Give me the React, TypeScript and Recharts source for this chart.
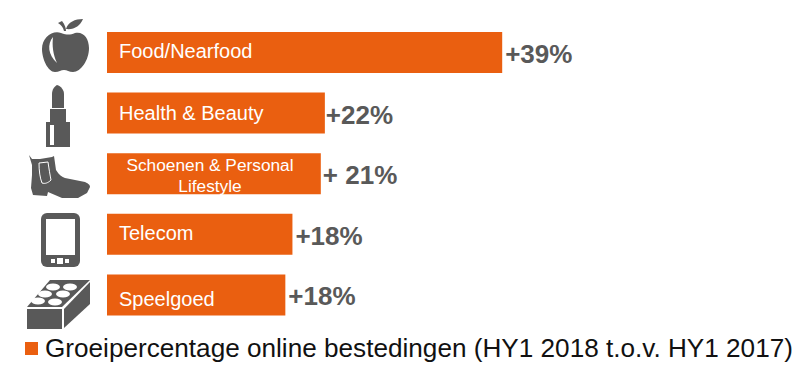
import { BarChart, Bar, XAxis, YAxis, LabelList, Legend } from 'recharts';

const categories = ['Food/Nearfood', 'Health & Beauty', 'Schoenen & Personal Lifestyle', 'Telecom', 'Speelgoed'];
const growth = [39, 21.5, 21.1, 18.3, 17.6];
const growthLabels = ['+39%', '+22%', '+ 21%', '+18%', '+18%'];
const seriesName = 'Groeipercentage online bestedingen (HY1 2018 t.o.v. HY1 2017)';

const chartData = categories.map((name, i) => ({ name, growth: growth[i], label: growthLabels[i] }));

const ORANGE = '#EA5F10';
const GREY = '#595959';
const FONT = '"Liberation Sans", Arial, sans-serif';

// icons are drawn around (0,0), which is the tick's anchor
function AppleIcon() {
  return (
    <g fill={GREY}>
      <path d="M-1 -31 C2 -27 3 -24 3 -21 L1 -21 C0 -25 -2 -27 -5 -29 Z" />
      <path d="M3 -23 C5 -30 12 -33 20 -33 C17 -26 11 -22 3 -23 Z" />
      <path d="M-2 -19 C4 -17 7 -17 12 -19 C20 -21 26 -14 26 -4 C26 8 18 20 10 20 C6 20 4 18 1 18 C-2 18 -4 20 -8 20 C-15 20 -21 7 -21 -3 C-21 -14 -11 -22 -2 -19 Z" />
      <path d="M-10 -15 C-16 -8 -15 3 -6 11 C-10 2 -11 -6 -10 -15 Z" fill="#fff" />
    </g>
  );
}

function LipstickIcon() {
  return (
    <g fill={GREY}>
      <path d="M-6 -10 L-6 -24 C-6 -29 -3 -32 -1 -33 C3 -32 6 -28 6 -24 L6 -10 Z" />
      <rect x={-8} y={-9} width={16} height={13} />
      <rect x={-12} y={4} width={24} height={25} />
      <rect x={-8} y={7} width={4} height={20} fill="#fff" />
    </g>
  );
}

function BootIcon() {
  return (
    <g>
      <path
        d="M-31 -20 L-28 -16 L-20 -16 L-8 -18 L-6 -19 L-4 -5 C-1 0 2 2 5 3 L25 7 C29 9 30 10 30 12 L27 18 L18 23 L2 23 L-12 17 L-13 21 L-27 20 L-29 13 L-28 0 L-28 -10 Z"
        fill={GREY}
      />
      <path d="M-21 -12 L-12 -13 C-11 -6 -10 0 -9 5 C-12 8 -15 9 -18 8 C-20 3 -21 -4 -21 -12 Z" fill="none" stroke="#fff" strokeWidth={1} />
    </g>
  );
}

function PhoneIcon() {
  return (
    <g>
      <rect x={-20} y={-27} width={39} height={54} rx={6} fill={GREY} />
      <rect x={-15} y={-21} width={29} height={36} fill="#fff" />
      <rect x={-10} y={19} width={4} height={4} fill="#fff" />
      <rect x={-4} y={18} width={6} height={6} fill="#fff" />
      <rect x={4} y={19} width={4} height={4} fill="#fff" />
    </g>
  );
}

function BrickIcon() {
  return (
    <g>
      <path d="M-33 3 L-10 -24 L30 -24 L2 3 Z" fill={GREY} />
      <path d="M-33 5 L2 5 L2 25 L-33 25 Z" fill={GREY} />
      <path d="M4 5 L30 -22 L30 0 L4 24 Z" fill={GREY} />
      {[[10, -17], [-7, -17], [3, -10], [-15, -10], [-5, -2], [-22, -3]].map(([cx, cy], i) => (
        <ellipse key={i} cx={cx} cy={cy} rx={7} ry={3.5} fill="#fff" />
      ))}
    </g>
  );
}

const icons = [AppleIcon, LipstickIcon, BootIcon, PhoneIcon, BrickIcon];
const iconOffsets = [[63, 52], [58, 118], [60, 175], [61, 240], [60, 304]];

function IconTick(props: any) {
  const i = props.index;
  const Icon = icons[i];
  return (
    <g transform={`translate(${iconOffsets[i][0]},${iconOffsets[i][1]})`}>
      <Icon />
    </g>
  );
}

// the text in the bars sits a little off-centre in the original
const nameShift = [-2, 0, 1, -1, 4];
const labelShift = [0, -2, -1, 0, 0];

function BarName(props: any) {
  const { x, y, height, value, index } = props;
  const cy = y + height / 2 + nameShift[index];
  if (value === 'Schoenen & Personal Lifestyle') {
    return (
      <text x={x + 103} y={cy} textAnchor="middle" fill="#fff" fontSize={17.3} fontFamily={FONT}>
        <tspan x={x + 103} dy={-4}>Schoenen &amp; Personal</tspan>
        <tspan x={x + 103} dy={21}>Lifestyle</tspan>
      </text>
    );
  }
  return (
    <text x={x + 12} y={cy + 7} fill="#fff" fontSize={20} fontFamily={FONT}>
      {value}
    </text>
  );
}

function GrowthLabel(props: any) {
  const { x, y, width, height, value, index } = props;
  return (
    <text x={x + width + 3 + labelShift[index]} y={y + height / 2 + 10.5} fill={GREY} fontSize={26} fontWeight="bold" fontFamily={FONT}>
      {value}
    </text>
  );
}

function LegendRow({ payload }: any) {
  return (
    <div style={{ display: 'flex', alignItems: 'center', fontFamily: FONT, fontSize: 26.15, color: '#111', whiteSpace: 'nowrap' }}>
      <span style={{ width: 13, height: 13, background: ORANGE, marginRight: 7, flex: 'none' }} />
      {payload?.[0]?.value}
    </div>
  );
}

export default function App() {
  return (
    <div style={{ position: 'absolute', left: 0, top: 0, width: 800, height: 367, background: '#fff' }}>
      <BarChart
        width={800}
        height={367}
        data={chartData}
        layout="vertical"
        margin={{ top: 22, right: 85, bottom: 11, left: 0 }}
      >
        <XAxis type="number" domain={[0, 60]} hide />
        <YAxis
          type="category"
          dataKey="name"
          width={107}
          axisLine={false}
          tickLine={false}
          interval={0}
          tick={<IconTick />}
        />
        <Legend
          content={<LegendRow />}
          wrapperStyle={{ position: 'absolute', left: 25, top: 333, width: 775, bottom: 'auto' }}
        />
        <Bar dataKey="growth" name={seriesName} fill={ORANGE} barSize={41} isAnimationActive={false}>
          <LabelList dataKey="name" content={<BarName />} />
          <LabelList dataKey="label" content={<GrowthLabel />} />
        </Bar>
      </BarChart>
    </div>
  );
}
